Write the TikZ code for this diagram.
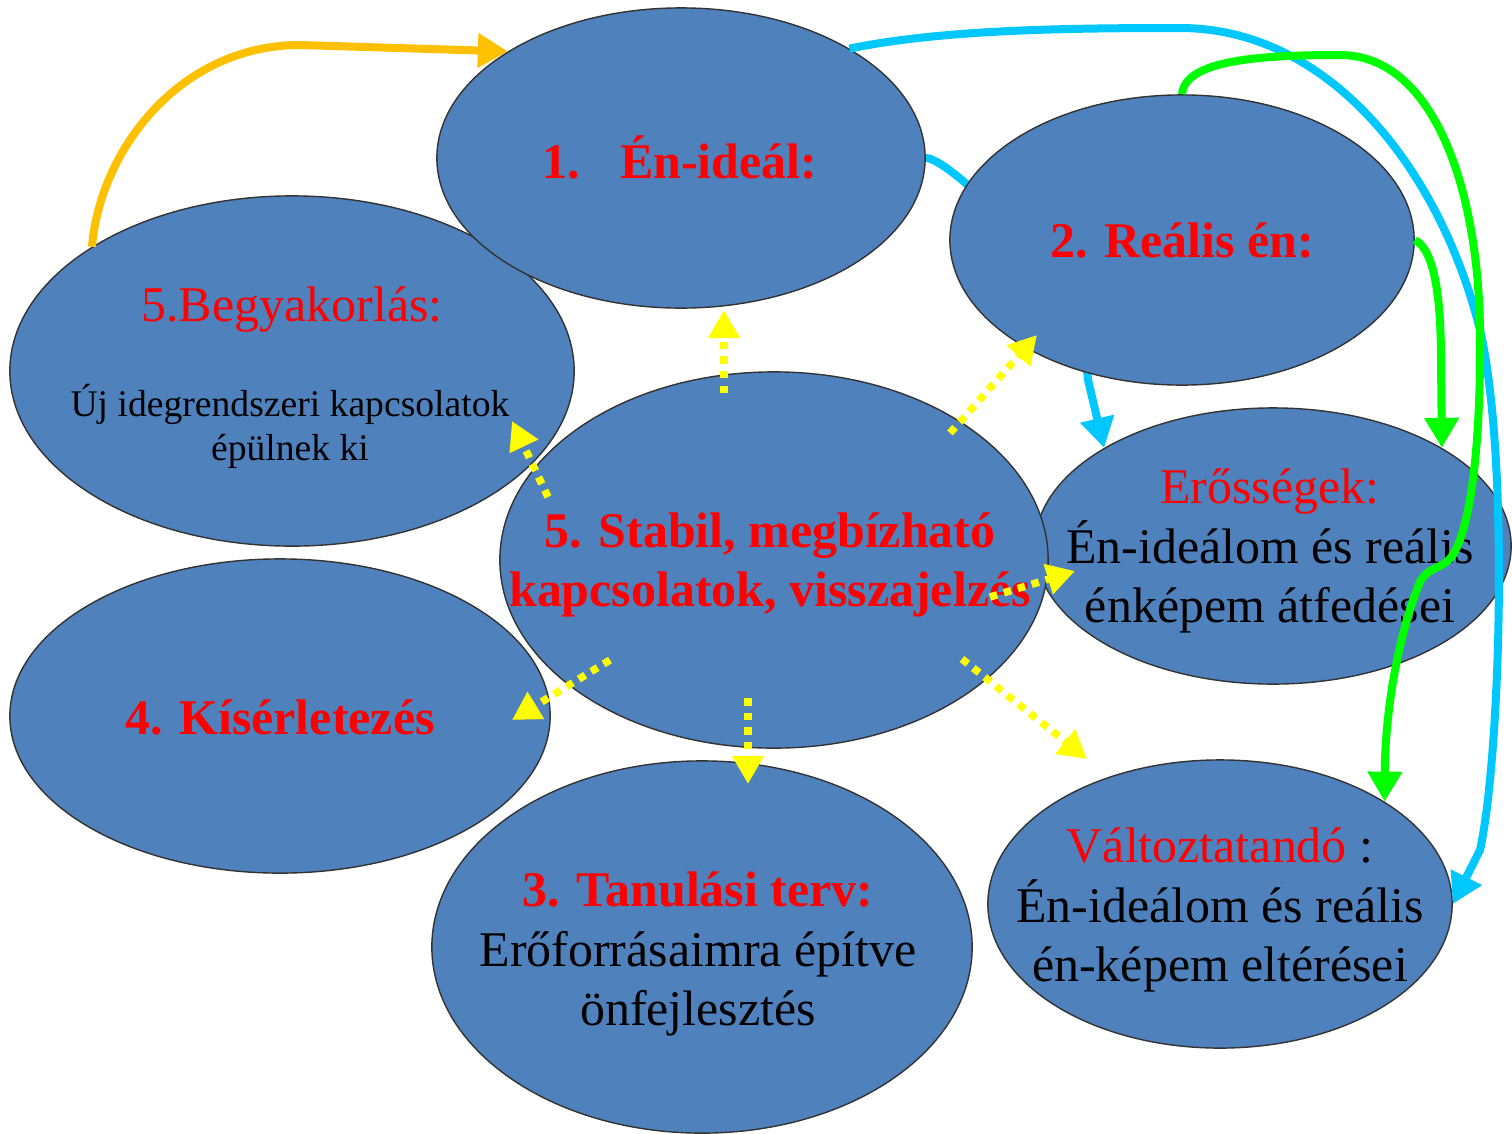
\documentclass[tikz,border=0pt]{standalone}
\usepackage{fontspec}
\setmainfont{Liberation Serif}
\usetikzlibrary{arrows.meta,shapes.geometric,backgrounds}

\definecolor{bubbleblue}{HTML}{4F81BD}
\definecolor{skyline}{HTML}{00C8FF}
\definecolor{limeline}{HTML}{00FF00}
\definecolor{amberline}{HTML}{FFC000}
\definecolor{dotyellow}{HTML}{FFFF00}

\begin{document}
\begin{tikzpicture}[x=0.01cm,y=-0.01cm,semithick]
	  \tikzstyle{bubble}=[ellipse,draw=black!80,thin,fill=bubbleblue,inner sep=0pt]
	  \tikzstyle{head}=[text=red,font=\bfseries\fontsize{14.2}{17}\selectfont,align=center]
	  \tikzstyle{plain}=[font=\fontsize{14.2}{17}\selectfont,align=center]
	  \tikzstyle{small}=[font=\fontsize{10.7}{12.5}\selectfont,align=center]
	  \tikzstyle{flow}=[line width=0.08cm,-{Triangle[length=0.3cm,width=0.33cm]}]
	  \tikzstyle{dots}=[dotyellow,line width=0.075cm,dash pattern=on 0.075cm off 0.07cm,-{Triangle[length=0.28cm,width=0.3cm]}]

	  \useasboundingbox (0,0) rectangle (1512,1133);

	  % the bubbles
	  \node[bubble,minimum width=5.64cm,minimum height=3.5cm] (begyak) at (292,371) {};
	  \node[bubble,minimum width=4.88cm,minimum height=3cm] (ideal) at (681,158) {};
	  \node[bubble,minimum width=4.64cm,minimum height=2.9cm] (realis) at (1182,240) {};
	  \node[bubble,minimum width=5.4cm,minimum height=3.14cm] (kiserlet) at (280,716) {};
	  \node[bubble,minimum width=5.4cm,minimum height=3.72cm] (tanulasi) at (702,947) {};
	  \node[bubble,minimum width=4.64cm,minimum height=2.88cm] (valtoz) at (1220,904) {};
	  \node[bubble,minimum width=4.76cm,minimum height=2.76cm] (erosseg) at (1273,546) {};
	  \node[bubble,minimum width=5.48cm,minimum height=3.76cm] (stabil) at (774,560) {};

	  % texts
	  \node[head] (ideal-t) at (680,157) {1.\hspace{0.8em}Én-ideál:};
	  \node[head] (realis-t) at (1182,240) {2. Reális én:};
	  \node[plain,text=red] (begyak-t) at (292,310) {5.Begyakorlás:};
	  \node[small] (begyak-b) at (290,426) {Új idegrendszeri kapcsolatok\\épülnek ki};
	  \node[head] (stabil-t) at (770,565) {5. Stabil, megbízható\\kapcsolatok, visszajelzés};
	  \node[plain] (erosseg-t) at (1270,551) {{\color{red}Erősségek:}\\Én-ideálom és reális\\énképem átfedései};
	  \node[head] (kiserlet-t) at (280,717) {4. Kísérletezés};
	  \node[plain] (tanulasi-t) at (698,954) {{\color{red}\bfseries 3. Tanulási terv:}\\Erőforrásaimra építve\\önfejlesztés};
	  \node[plain] (valtoz-t) at (1220,910) {{\color{red}Változtatandó} :\\Én-ideálom és reális\\én-képem eltérései};

	  % coloured connectors
	  \begin{scope}[on background layer]
	    \draw[flow,skyline] (ideal.east) .. controls (950,158) and (1080,280) .. (1088,380) -- (erosseg.north west);
	  \end{scope}
	  \draw[flow,amberline] (begyak.north west) .. controls (100,150) and (180,45) .. (300,45) -- (ideal.north west);
	  \draw[flow,skyline] (ideal.33) .. controls (940,30) and (1060,28) .. (1180,28) .. controls (1330,28) and (1440,170) .. (1480,330) .. controls (1510,460) and (1500,760) .. (1480,850) -- (valtoz.east);
	  \draw[flow,limeline] (realis.north) .. controls (1185,60) and (1260,55) .. (1340,55) .. controls (1430,55) and (1478,180) .. (1480,330) .. controls (1481,450) and (1470,530) .. (1452,556) .. controls (1442,570) and (1428,566) .. (1420,582) .. controls (1400,630) and (1387,700) .. (1385,760) -- (valtoz.north east);
	  \draw[flow,limeline] (realis.east) .. controls (1435,250) and (1441,300) .. (1441,360) -- (erosseg.north east);

	  % yellow dotted arrows out of the middle
	  \coordinate (up-a) at (724,393);  \coordinate (up-b) at (724,310);
	  \coordinate (ur-a) at (950,433);  \coordinate (ur-b) at (1037,335);
	  \coordinate (ul-a) at (548,497);  \coordinate (ul-b) at (512,421);
	  \coordinate (rt-a) at (990,597);  \coordinate (rt-b) at (1075,571);
	  \coordinate (ll-a) at (610,660);  \coordinate (ll-b) at (512,720);
	  \coordinate (dn-a) at (748,698);  \coordinate (dn-b) at (748,784);
	  \coordinate (lr-a) at (962,659);  \coordinate (lr-b) at (1087,759);
	  \foreach \from/\to in {up-a/up-b,ur-a/ur-b,ul-a/ul-b,rt-a/rt-b,ll-a/ll-b,dn-a/dn-b,lr-a/lr-b}
	    \draw[dots] (\from) -- (\to);
\end{tikzpicture}
\end{document}
